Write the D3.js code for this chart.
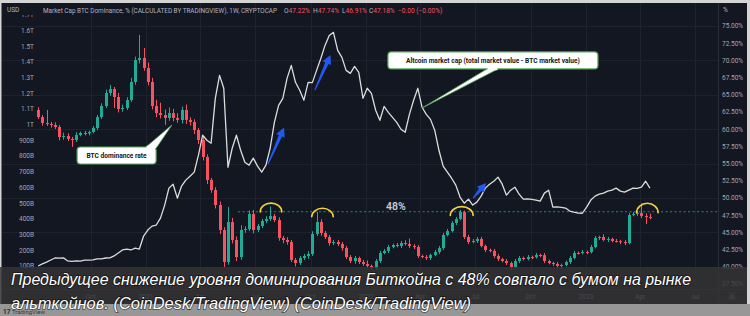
<!DOCTYPE html>
<html>
<head>
<meta charset="utf-8">
<script src="https://cdn.jsdelivr.net/npm/d3@7"></script>
<style>
  body { margin: 0; background: #d4d4d4; }
  svg { display: block; font-family: Roboto, "Noto Sans", sans-serif; }
</style>
</head>
<body>
<svg id="chart" width="750" height="316"></svg>
<script>
// weekly candles of BTC dominance (%), first week starts 2020-07-06
const firstWeek = new Date(2020, 6, 6);
const domFirstOpen = 62.79;
const domClose = [
  61.77, 60.90, 60.76, 60.61, 60.32, 58.87, 59.01, 58.58, 58.43, 59.16,
  59.45, 59.40, 59.59, 60.17, 61.77, 63.37, 65.26, 65.84, 64.68, 62.94,
  63.08, 64.24, 66.86, 70.06, 70.35, 68.90, 66.86, 63.37, 62.35, 62.06,
  61.63, 62.35, 61.63, 61.34, 62.79, 61.34, 61.05, 59.88, 58.43, 55.96,
  52.62, 51.16, 48.98, 45.35, 40.70, 46.51, 43.90, 41.42, 45.35, 45.49,
  47.67, 45.35, 45.93, 46.66, 46.95, 47.38, 46.80, 44.19, 43.90, 43.60,
  40.99, 40.55, 41.28, 41.57, 41.86, 44.77, 46.51, 44.91, 44.33, 43.46,
  43.60, 43.31, 42.73, 41.42, 40.84, 41.28, 40.70, 40.41, 40.12, 39.83,
  40.84, 42.01, 42.30, 42.88, 43.17, 43.02, 43.46, 43.31, 43.02, 42.88,
  41.57, 41.42, 41.28, 41.72, 42.15, 42.73, 44.62, 45.20, 46.37, 46.95,
  47.97, 44.33, 43.60, 43.75, 44.04, 43.02, 42.44, 42.30, 41.57, 41.13,
  40.84, 40.55, 39.97, 40.84, 41.28, 41.13, 41.42, 41.40, 41.72, 41.70,
  40.84, 40.55, 40.41, 40.12, 40.26, 40.70, 41.28, 42.01, 42.00, 42.15,
  42.13, 42.88, 44.19, 44.33, 43.90, 44.04, 43.75, 43.72, 43.60, 43.46,
  47.53, 47.67, 47.82, 47.38, 47.22, 47.18
];
// wick lengths above / below the candle body, in percentage points
const domUpperWick = [
  0.4, 0.3, 1.9, 0.3, 0.4, 0.3, 0.5, 0.4, 0.3, 0.4,
  0.2, 0.3, 0.2, 0.3, 0.3, 0.4, 0.5, 0.6, 0.3, 0.6,
  0.5, 0.4, 0.6, 0.5, 3.35, 1.45, 0.8, 0.6, 0.9, 1.5,
  0.8, 0.8, 0.6, 0.7, 0.5, 0.8, 0.4, 0.4, 0.3, 0.5,
  0.4, 0.3, 0.4, 0.5, 0.4, 2.2, 0.6, 0.5, 0.7, 0.4,
  0.5, 0.6, 0.3, 0.3, 0.4, 1.4, 0.3, 0.4, 0.3, 0.4,
  0.3, 0.3, 0.3, 0.3, 0.4, 0.4, 1.5, 0.4, 0.3, 0.3,
  0.3, 0.3, 0.3, 0.3, 0.3, 0.3, 0.2, 0.3, 0.5, 0.2,
  0.3, 0.3, 0.3, 0.3, 0.2, 0.3, 0.3, 0.4, 0.8, 0.3,
  0.3, 0.2, 0.3, 0.2, 0.3, 0.3, 0.3, 0.3, 0.3, 0.3,
  0.3, 0.2, 0.3, 0.3, 0.3, 0.3, 0.2, 0.2, 0.3, 0.3,
  0.2, 0.3, 0.2, 0.3, 0.3, 0.2, 0.3, 0.2, 0.3, 0.2,
  0.3, 0.2, 0.2, 0.3, 0.2, 0.2, 0.3, 0.3, 0.2, 0.3,
  0.2, 0.3, 0.3, 0.2, 0.4, 0.3, 0.2, 0.3, 0.2, 0.3,
  0.3, 0.3, 0.3, 1.4, 0.4, 0.52
];
const domLowerWick = [
  0.3, 0.4, 0.3, 0.4, 0.3, 0.5, 0.4, 0.3, 1.0, 0.3,
  0.2, 0.3, 0.3, 0.2, 0.3, 0.3, 0.3, 0.4, 1.6, 0.5,
  0.4, 0.3, 0.3, 0.4, 0.5, 0.4, 0.5, 0.5, 0.6, 0.5,
  1.0, 0.4, 0.5, 0.4, 0.5, 0.6, 0.5, 0.6, 0.6, 0.5,
  0.6, 0.4, 0.5, 0.6, 0.73, 0.4, 0.5, 0.6, 0.4, 0.4,
  0.3, 0.5, 0.3, 0.3, 0.3, 0.3, 0.3, 0.4, 0.5, 0.4,
  0.3, 0.5, 0.3, 0.3, 0.4, 0.3, 0.3, 0.4, 0.3, 0.4,
  0.3, 0.3, 0.4, 0.3, 0.3, 0.4, 0.3, 0.3, 0.3, 0.2,
  0.3, 0.3, 0.2, 0.3, 0.2, 0.2, 0.3, 0.2, 0.3, 0.3,
  0.3, 0.2, 0.3, 0.3, 0.2, 0.3, 0.3, 0.2, 0.2, 0.3,
  0.2, 0.3, 0.3, 0.2, 0.3, 0.2, 0.3, 0.2, 0.3, 0.3,
  0.2, 0.3, 0.4, 0.2, 0.3, 0.2, 0.2, 0.3, 0.2, 0.3,
  0.3, 0.2, 0.3, 0.2, 0.5, 0.2, 0.3, 0.2, 0.2, 0.2,
  0.3, 0.2, 0.2, 0.3, 0.2, 0.3, 0.2, 0.2, 0.3, 0.3,
  0.2, 0.2, 0.3, 0.3, 1.0, 0.27
];
// altcoin market cap, billions USD, same weeks
const altcoinCap = [
  100, 113, 125, 138, 151, 150, 152, 132, 130, 133,
  131, 138, 137, 139, 145, 146, 151, 152, 164, 183,
  202, 208, 202, 214, 208, 291, 329, 354, 361, 405,
  488, 596, 621, 532, 609, 647, 672, 698, 806, 933,
  901, 882, 1168, 1314, 1232, 729, 850, 933, 837, 761,
  742, 787, 736, 698, 742, 850, 1015, 1123, 1168, 1295,
  1378, 1270, 1219, 1156, 1270, 1268, 1346, 1422, 1505, 1568,
  1588, 1473, 1429, 1346, 1327, 1371, 1333, 1168, 1232, 1200,
  1092, 1028, 1117, 1079, 1047, 1015, 971, 952, 1066, 1156,
  1232, 1111, 1066, 1034, 965, 837, 736, 698, 659, 615,
  539, 500, 526, 488, 507, 545, 596, 621, 640, 666,
  621, 551, 583, 602, 558, 526, 527, 525, 520, 513,
  564, 583, 475, 476, 474, 469, 450, 443, 437, 436,
  475, 520, 545, 558, 564, 577, 583, 596, 577, 570,
  583, 596, 595, 602, 640, 596
];

const pctTicks = [37.5, 40, 42.5, 45, 47.5, 50, 52.5, 55, 57.5, 60, 62.5, 65, 67.5, 70, 72.5, 75];
const pctGrid = [40, 45, 50, 55, 60, 65, 70, 75];
const usdTicks = [100, 200, 300, 400, 500, 600, 700, 800, 900, 1000, 1100, 1200, 1300, 1400, 1500, 1600, 1700];
const timeTicks = [
  ['2020-10-01', 'Oct'], ['2021-01-01', '2021'], ['2021-04-01', 'Apr'], ['2021-07-01', 'Jul'],
  ['2021-10-01', 'Oct'], ['2022-01-01', '2022'], ['2022-04-01', 'Apr'], ['2022-07-01', 'Jul'],
  ['2022-10-01', 'Oct'], ['2023-01-01', '2023'], ['2023-04-01', 'Apr'], ['2023-07-01', 'Jul']
];

// annotations, anchored in weeks (from firstWeek) and values
const level48 = { pct: 48, fromWeek: 47.4, labelWeek: 84.8 };
const peakArcs = [
  { week: 55.2, top: 49.25, base: 47.97, half: 2.55 },
  { week: 67.4, top: 48.5, base: 47.27, half: 2.55 },
  { week: 100.4, top: 48.74, base: 47.46, half: 2.7 },
  { week: 144.4, top: 49.23, base: 47.86, half: 2.55 }
];
const blueArrows = [
  { from: [54.5, 750], to: [58.3, 982] },
  { from: [65.6, 1221], to: [69.3, 1444] },
  { from: [103.1, 533], to: [106.2, 629] }
];
const callouts = [
  { text: 'BTC dominance rate', week: 18.6, pct: 56.18, w: 79, tip: [31.7, 60.6], base: [146, 157] },
  { text: 'Altcoin market cap (total market value - BTC market value)', week: 107.8, pct: 69.99, w: 210,
    tip: [91.0, 63.08], base: [487, 498] }
];
const captionLines = [
  'Предыдущее снижение уровня доминирования Биткойна с 48% совпало с бумом на рынке',
  'альткойнов. (CoinDesk/TradingView) (CoinDesk/TradingView)'
];

const svg = d3.select('#chart');
const plot = { left: 37, right: 718, top: 3, bottom: 289 };
const upColor = '#22ab94';
const downColor = '#f7525f';

const weekDate = w => new Date(firstWeek.getTime() + w * 7 * 864e5);

const x = d3.scaleTime()
  .domain([new Date(2021, 0, 1), new Date(2023, 0, 1)])
  .range([146, 586]);
const yPct = d3.scaleLinear().domain([37.5, 75]).range([284, 26]);
const yUsd = d3.scaleLinear().domain([100, 1600]).range([266, 30.5]);

const candles = domClose.map((c, i) => {
  const o = i ? domClose[i - 1] : domFirstOpen;
  return {
    date: weekDate(i), o, c,
    h: Math.max(o, c) + domUpperWick[i],
    l: Math.min(o, c) - domLowerWick[i]
  };
});

// frame
svg.append('rect').attr('x', 1.5).attr('y', 3).attr('width', 745.5).attr('height', 310).attr('fill', '#131722');

const defs = svg.append('defs');
defs.append('clipPath').attr('id', 'plotClip').append('rect')
  .attr('x', plot.left).attr('y', plot.top)
  .attr('width', plot.right - plot.left).attr('height', plot.bottom - plot.top);
defs.append('clipPath').attr('id', 'axisClip').append('rect')
  .attr('x', 0).attr('y', 15).attr('width', 750).attr('height', 280);

// grid
const grid = svg.append('g').attr('stroke', '#1e222d').attr('stroke-width', 1);
grid.selectAll('.gx').data(timeTicks).join('line')
  .attr('x1', d => Math.round(x(new Date(d[0]))) + 0.5)
  .attr('x2', d => Math.round(x(new Date(d[0]))) + 0.5)
  .attr('y1', plot.top).attr('y2', plot.bottom);
grid.selectAll('.gy').data(pctGrid).join('line')
  .attr('x1', 2).attr('x2', plot.right)
  .attr('y1', d => Math.round(yPct(d)) + 0.5)
  .attr('y2', d => Math.round(yPct(d)) + 0.5);

svg.append('line')
  .attr('x1', plot.right + 0.5).attr('x2', plot.right + 0.5)
  .attr('y1', 3).attr('y2', 304)
  .attr('stroke', '#2a2e39');
svg.append('line')
  .attr('x1', 2).attr('x2', 747)
  .attr('y1', plot.bottom + 0.5).attr('y2', plot.bottom + 0.5)
  .attr('stroke', '#2a2e39');

const chart = svg.append('g').attr('clip-path', 'url(#plotClip)');

// 48% level
chart.append('line')
  .attr('x1', x(weekDate(level48.fromWeek))).attr('x2', plot.right)
  .attr('y1', yPct(level48.pct)).attr('y2', yPct(level48.pct))
  .attr('stroke', '#238891').attr('stroke-width', 1.2)
  .attr('stroke-dasharray', '2,2.5');

// candles
chart.selectAll('.wick').data(candles).join('line')
  .attr('x1', d => Math.round(x(d.date)) + 0.5)
  .attr('x2', d => Math.round(x(d.date)) + 0.5)
  .attr('y1', d => yPct(d.h)).attr('y2', d => yPct(d.l))
  .attr('stroke', d => d.c >= d.o ? upColor : downColor)
  .attr('stroke-width', 1);
chart.selectAll('.body').data(candles).join('rect')
  .attr('x', d => Math.round(x(d.date)) - 1)
  .attr('width', 3)
  .attr('y', d => yPct(Math.max(d.o, d.c)))
  .attr('height', d => Math.max(1, Math.abs(yPct(d.o) - yPct(d.c))))
  .attr('fill', d => d.c >= d.o ? upColor : downColor);

// altcoin market cap line
const line = d3.line()
  .x((d, i) => x(weekDate(i)))
  .y(d => yUsd(d));
chart.append('path')
  .attr('d', line(altcoinCap))
  .attr('fill', 'none')
  .attr('stroke', '#dcdcdc')
  .attr('stroke-width', 1.3)
  .attr('stroke-linejoin', 'round');

// yellow arcs over the 48% peaks
chart.selectAll('.arc').data(peakArcs).join('path')
  .attr('d', d => {
    const x0 = x(weekDate(d.week - d.half));
    const x1 = x(weekDate(d.week + d.half));
    const yb = yPct(d.base);
    const ry = yb - yPct(d.top);
    return `M${x0},${yb} A${(x1 - x0) / 2},${ry} 0 0 1 ${x1},${yb}`;
  })
  .attr('fill', 'none')
  .attr('stroke', '#f2d23c')
  .attr('stroke-width', 1.6)
  .attr('stroke-linecap', 'round');

// blue arrows
function arrowPath(t, h) {
  const dx = h[0] - t[0], dy = h[1] - t[1];
  const len = Math.hypot(dx, dy);
  const ux = dx / len, uy = dy / len, nx = -uy, ny = ux;
  const hl = 9, hw = 4.6;
  const b = [h[0] - ux * hl, h[1] - uy * hl];
  const p = (q, k) => `${q[0] + nx * k},${q[1] + ny * k}`;
  return `M${p(t, 0.6)} L${p(b, 1.8)} L${p(b, hw)} L${h[0]},${h[1]} L${p(b, -hw)} L${p(b, -1.8)} L${p(t, -0.6)} Z`;
}
chart.selectAll('.arrow').data(blueArrows).join('path')
  .attr('d', d => arrowPath(
    [x(weekDate(d.from[0])), yUsd(d.from[1])],
    [x(weekDate(d.to[0])), yUsd(d.to[1])]))
  .attr('fill', '#2059f0');

// 48% label
svg.append('text')
  .attr('x', x(weekDate(level48.labelWeek))).attr('y', yPct(level48.pct) - 1.5)
  .attr('text-anchor', 'middle')
  .attr('fill', '#c9ccd3').attr('font-size', 10.5).attr('font-weight', 600)
  .text('48%');

// callouts
callouts.forEach(c => {
  const cx = x(weekDate(c.week));
  const cy = yPct(c.pct);
  const tx = x(weekDate(c.tip[0]));
  const ty = yPct(c.tip[1]);
  const top = cy - 8.5, bottom = cy + 8.5;
  const edge = ty < cy ? top : bottom;
  svg.append('path')
    .attr('d', `M${c.base[0]},${edge} L${tx},${ty} L${c.base[1]},${edge} Z`)
    .attr('fill', '#ffffff').attr('stroke', '#5aa85d').attr('stroke-width', 0.8);
  svg.append('rect')
    .attr('x', cx - c.w / 2).attr('y', top)
    .attr('width', c.w).attr('height', 17).attr('rx', 3.5)
    .attr('fill', '#ffffff').attr('stroke', '#5aa85d').attr('stroke-width', 1.2);
  svg.append('rect')
    .attr('x', c.base[0] + 0.6).attr('y', edge - 1.2)
    .attr('width', c.base[1] - c.base[0] - 1.2).attr('height', 2.4)
    .attr('fill', '#ffffff');
  svg.append('text')
    .attr('x', cx).attr('y', cy + 2.4)
    .attr('text-anchor', 'middle')
    .attr('fill', '#131722').attr('font-size', 6.6).attr('font-weight', 700)
    .text(c.text);
});

// axes labels
const axisText = '#a3a6af';
const leftAxis = svg.append('g').attr('clip-path', 'url(#axisClip)');
leftAxis.selectAll('text').data(usdTicks).join('text')
  .attr('x', 34).attr('y', d => yUsd(d) + 2.3)
  .attr('text-anchor', 'end')
  .attr('fill', axisText).attr('font-size', 6.5)
  .text(d => d >= 1000 ? `${d3.format('.2~f')(d / 1000)}T` : `${d}B`);

svg.append('g').selectAll('text').data(pctTicks).join('text')
  .attr('x', 722).attr('y', d => yPct(d) + 2.3)
  .attr('fill', axisText).attr('font-size', 6.5)
  .text(d => `${d.toFixed(2)}%`);

svg.append('g').selectAll('text').data(timeTicks).join('text')
  .attr('x', d => x(new Date(d[0]))).attr('y', 298.5)
  .attr('text-anchor', 'middle')
  .attr('fill', axisText).attr('font-size', 6.5)
  .text(d => d[1]);

svg.append('circle').attr('cx', 732).attr('cy', 296.5).attr('r', 5).attr('fill', '#2a2e39');
svg.append('text').attr('x', 732).attr('y', 298.8).attr('text-anchor', 'middle')
  .attr('fill', axisText).attr('font-size', 6.5).text('A');

// header
svg.append('text').attr('x', 7).attr('y', 11.5)
  .attr('fill', '#b2b5be').attr('font-size', 6.5).text('USD');
svg.append('text').attr('x', 723).attr('y', 11.5)
  .attr('fill', '#b2b5be').attr('font-size', 6.5).text('%');
svg.append('text').attr('x', 43).attr('y', 13)
  .attr('fill', '#b2b5be').attr('font-size', 6.6)
  .attr('textLength', 234).attr('lengthAdjust', 'spacingAndGlyphs')
  .text('Market Cap BTC Dominance, % (CALCULATED BY TRADINGVIEW), 1W, CRYPTOCAP');
const last = candles[candles.length - 1];
const ohlc = [
  [284, 'O', `${last.o.toFixed(2)}%`],
  [313, 'H', `${last.h.toFixed(2)}%`],
  [342, 'L', `${last.l.toFixed(2)}%`],
  [369, 'C', `${last.c.toFixed(2)}%`],
  [398, '', `\u22120.00 (\u22120.00%)`]
];
ohlc.forEach(([px, k, v]) => {
  const t = svg.append('text').attr('x', px).attr('y', 13).attr('font-size', 6.6);
  t.append('tspan').attr('fill', '#b2b5be').text(k);
  t.append('tspan').attr('fill', '#f7525f').text(v);
});

// bottom strip and caption overlay
svg.append('rect').attr('x', 0).attr('y', 304).attr('width', 750).attr('height', 12).attr('fill', '#979797');
svg.append('text').attr('x', 3).attr('y', 314).attr('fill', '#2e2e2e')
  .attr('font-size', 6.5).attr('font-weight', 700).text('17');
svg.append('text').attr('x', 12).attr('y', 314).attr('fill', '#3a3a3a')
  .attr('font-size', 6).text('TradingView');
svg.append('rect').attr('x', 0).attr('y', 267).attr('width', 750).attr('height', 37)
  .attr('fill', 'rgba(52,52,54,0.84)');

svg.selectAll('.caption').data(captionLines).join('text')
  .attr('x', 11).attr('y', (d, i) => 285 + i * 24)
  .attr('textLength', (d, i) => i ? 460 : 680)
  .attr('lengthAdjust', 'spacingAndGlyphs')
  .attr('font-family', '"Liberation Sans Narrow", "Liberation Sans", Arial, sans-serif')
  .attr('font-style', 'italic')
  .attr('font-size', 17)
  .attr('fill', '#ffffff')
  .attr('stroke', 'rgba(0,0,0,0.55)').attr('stroke-width', 1.6)
  .attr('paint-order', 'stroke')
  .text(d => d);

// light outer border
svg.append('rect').attr('x', 0).attr('y', 0).attr('width', 750).attr('height', 3).attr('fill', '#d4d4d4');
svg.append('rect').attr('x', 747).attr('y', 0).attr('width', 3).attr('height', 304).attr('fill', '#d4d4d4');
</script>
</body>
</html>
